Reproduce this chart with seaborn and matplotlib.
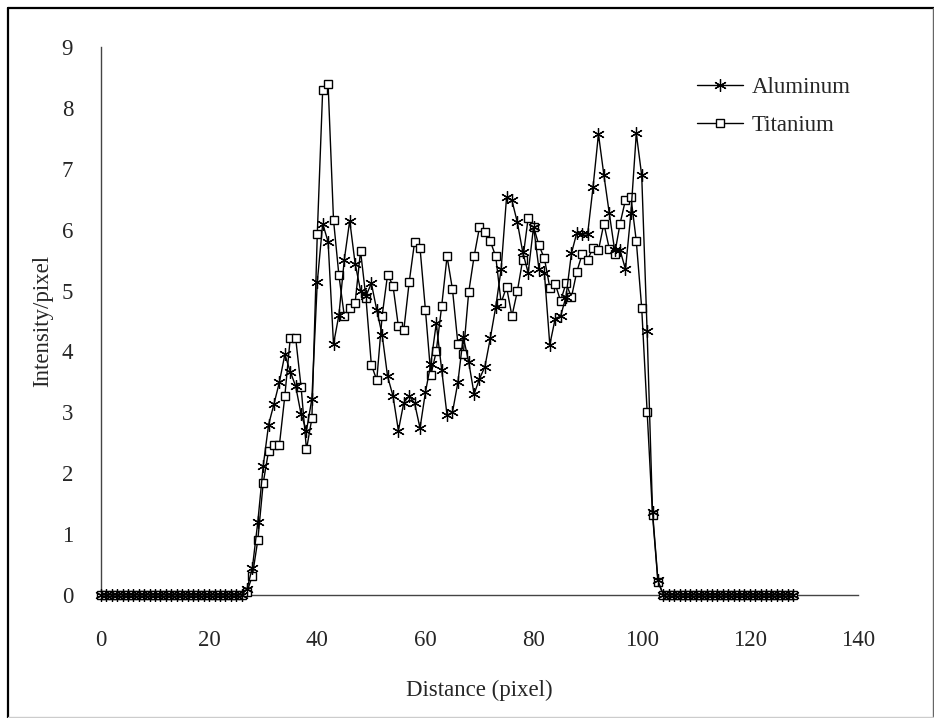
import numpy as np
import pandas as pd
import matplotlib
matplotlib.use("Agg")
import matplotlib.pyplot as plt
from matplotlib.lines import Line2D
import seaborn as sns

# distance along the profile (pixel)
distance = np.arange(0, 129)

# intensity per pixel (zeros outside the sample)
aluminum = [0.0] * 27 + [
    0.10, 0.45, 1.20,
    2.12, 2.80, 3.14, 3.50, 3.95, 3.67, 3.43, 2.97, 2.70, 3.22,
    5.14, 6.10, 5.80, 4.12, 4.60, 5.51, 6.15, 5.44, 5.00, 4.91,
    5.12, 4.68, 4.27, 3.59, 3.27, 2.70, 3.16, 3.27, 3.15, 2.74,
    3.33, 3.80, 4.46, 3.70, 2.95, 3.00, 3.49, 4.24, 3.83, 3.30,
    3.55, 3.75, 4.22, 4.73, 5.35, 6.53, 6.48, 6.12, 5.63, 5.29,
    6.05, 5.35, 5.29, 4.11, 4.54, 4.58, 4.90, 5.61, 5.95, 5.93,
    5.93, 6.70, 7.57, 6.90, 6.27, 5.66, 5.66, 5.35, 6.27, 7.58,
    6.89, 4.33, 1.37, 0.24,
] + [0.0] * 25

titanium = [0.0] * 27 + [
    0.05, 0.32, 0.90,
    1.84, 2.37, 2.47, 2.47, 3.27, 4.22, 4.22, 3.42, 2.39, 2.90,
    5.93, 8.30, 8.39, 6.16, 5.25, 4.58, 4.71, 4.80, 5.65, 4.88,
    3.78, 3.53, 4.59, 5.26, 5.08, 4.41, 4.35, 5.14, 5.80, 5.70,
    4.68, 3.61, 4.00, 4.74, 5.56, 5.02, 4.13, 3.95, 4.97, 5.56,
    6.04, 5.96, 5.81, 5.56, 4.80, 5.06, 4.58, 4.99, 5.51, 6.19,
    6.05, 5.74, 5.53, 5.05, 5.11, 4.83, 5.12, 4.89, 5.31, 5.60,
    5.51, 5.70, 5.66, 6.10, 5.69, 5.60, 6.10, 6.49, 6.54, 5.81,
    4.71, 3.00, 1.32, 0.22,
] + [0.0] * 25

xticks = [0, 20, 40, 60, 80, 100, 120, 140]
yticks = list(range(0, 10))

df = pd.DataFrame({"distance": distance, "Aluminum": aluminum, "Titanium": titanium})

sns.set_style("white")
plt.rcParams["font.family"] = ["Liberation Serif", "DejaVu Serif"]
plt.rcParams["font.size"] = 16.5

fig = plt.figure(figsize=(9.34, 7.18), dpi=100)
ax = fig.add_axes([101 / 934, 1 - 595 / 718, 757 / 934, 548 / 718])

sns.lineplot(data=df, x="distance", y="Aluminum", ax=ax, color="black", lw=1.0,
             marker=(6, 2, 0), markersize=9, markeredgewidth=0.9,
             markeredgecolor="black", label="Aluminum", clip_on=False, zorder=4)
sns.lineplot(data=df, x="distance", y="Titanium", ax=ax, color="black", lw=1.0,
             marker="s", markersize=6.2, markeredgewidth=1.0,
             markerfacecolor="white", markeredgecolor="black", label="Titanium",
             clip_on=False, zorder=3)

ax.set_xlim(0, 140)
ax.set_ylim(0, 9)
ax.set_xticks(xticks)
ax.set_yticks(yticks)
ax.tick_params(axis="x", direction="in", length=6, width=1, color="#444444", pad=25)
ax.tick_params(axis="y", direction="in", length=6, width=1, color="#444444", pad=20)
ax.set_xlabel("Distance (pixel)")
ax.set_ylabel("Intensity/pixel")
ax.xaxis.set_label_coords(0.5, -0.155)
ax.yaxis.set_label_coords(-0.063, 0.5)

for s in ["top", "right"]:
    ax.spines[s].set_visible(False)
for s in ["left", "bottom"]:
    ax.spines[s].set_color("#444444")
    ax.spines[s].set_linewidth(1)
ax.grid(False)

ax.legend(loc="upper left", bbox_to_anchor=(0.787, 0.946), frameon=False,
          borderpad=0, borderaxespad=0, handlelength=2.0, handletextpad=0.4,
          labelspacing=0.77)

# outer frame around the whole chart
fig.add_artist(Line2D([7.5 / 934, 7.5 / 934], [1 - 7.5 / 718, 0], color="black", lw=1.6))
fig.add_artist(Line2D([7.5 / 934, 1], [1 - 7.5 / 718, 1 - 7.5 / 718], color="black", lw=1.6))
fig.add_artist(Line2D([932.5 / 934, 932.5 / 934], [1 - 7.5 / 718, 1.5 / 718], color="#666666", lw=1))
fig.add_artist(Line2D([7.5 / 934, 932.5 / 934], [1.5 / 718, 1.5 / 718], color="#cccccc", lw=1))

fig.savefig("out.png", dpi=100)
